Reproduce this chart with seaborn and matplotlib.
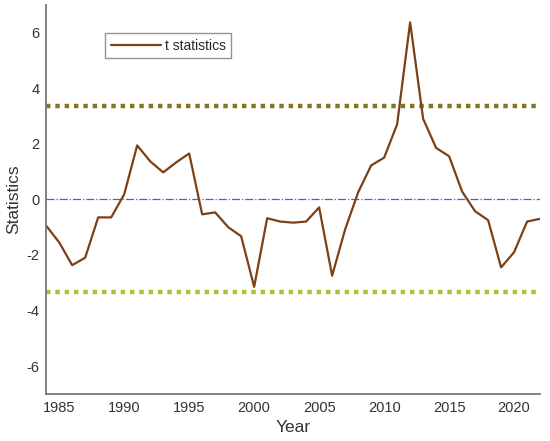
import numpy as np
import pandas as pd
import matplotlib
matplotlib.use("Agg")
import matplotlib.pyplot as plt
import seaborn as sns

# Dati
anni = list(range(1984, 2023))
t_stat = [-0.95, -1.55, -2.37, -2.1, -0.65, -0.65, 0.18, 1.94, 1.37, 0.97,
          1.33, 1.65, -0.54, -0.47, -1.0, -1.33, -3.15, -0.68, -0.8, -0.84,
          -0.8, -0.29, -2.75, -1.08, 0.25, 1.22, 1.5, 2.7, 6.37, 2.9,
          1.85, 1.55, 0.28, -0.43, -0.75, -2.45, -1.9, -0.8, -0.7]
soglia_sup = 3.35
soglia_inf = -3.35

df = pd.DataFrame({"Year": anni, "Statistics": t_stat})

sns.set_style("white")
plt.rcParams['font.family'] = ['Liberation Sans', 'DejaVu Sans']
plt.rcParams['axes.unicode_minus'] = False

fig = plt.figure(figsize=(5.5, 4.41), dpi=100)
ax = fig.add_axes([0.084, 0.107, 0.898, 0.882])

ax.axhline(soglia_sup, color='#857620', linestyle=(0, (1, 1.1)), linewidth=3.2)
ax.axhline(soglia_inf, color='#b3bd35', linestyle=(0, (1, 1.1)), linewidth=3.2)
ax.axhline(0, color='#4a5fd0', linestyle='-.', linewidth=0.9)

sns.lineplot(data=df, x="Year", y="Statistics", ax=ax, color='#7d4014',
             linewidth=1.6, label='t statistics')

ax.set_xlim(1984, 2022)
ax.set_ylim(-7, 7)
ax.set_xticks([1985, 1990, 1995, 2000, 2005, 2010, 2015, 2020])
ax.set_yticks([-6, -4, -2, 0, 2, 4, 6])
ax.tick_params(direction='in', length=4, width=1, colors='#777777',
               labelcolor='#333333', labelsize=10.5, pad=5)
for s in ['top', 'right']:
    ax.spines[s].set_visible(False)
for s in ['left', 'bottom']:
    ax.spines[s].set_color('#777777')
    ax.spines[s].set_linewidth(1.3)
ax.set_xlabel('Year', fontsize=12.5, color='#333333', labelpad=4)
ax.set_ylabel('Statistics', fontsize=12.5, color='#333333', labelpad=4)

leg = ax.legend(loc='upper left', bbox_to_anchor=(0.105, 0.945), fontsize=10,
                frameon=True, fancybox=False, handlelength=3.6,
                borderpad=0.4, handletextpad=0.3)
leg.get_frame().set_edgecolor('#777777')
leg.get_frame().set_linewidth(1.0)

fig.savefig('out.png', dpi=100)
